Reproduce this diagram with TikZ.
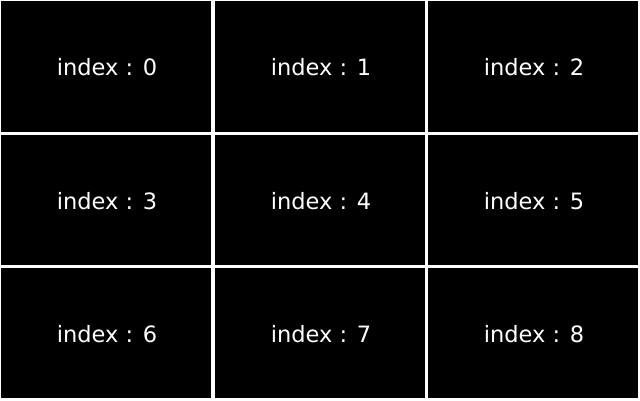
\documentclass[tikz,border=0pt]{standalone}
\usepackage{fontspec}
\setmainfont{DejaVu Sans}
\begin{document}
\begin{tikzpicture}[x=1pt,y=-1pt,
  cell/.style={fill=black,draw=none},
  lbl/.style={text=white,font=\fontsize{22.5}{26}\selectfont,inner sep=0pt}]
\fill[white] (0,0) rectangle (640,400);
\useasboundingbox (0,0) rectangle (640,400);
\foreach \r/\ya/\yb in {0/1/132,1/135/265,2/268/398}{
  \foreach \c/\xa/\xb in {0/1/211,1/215/425,2/428/638}{
    \pgfmathtruncatemacro{\idx}{3*\r+\c}
    \fill[cell] (\xa,\ya) rectangle (\xb,\yb);
    \node[lbl] (n\idx) at ({(\xa+\xb)/2+1},{(\ya+\yb)/2+1}) {index : \idx};
  }
}
\end{tikzpicture}
\end{document}
